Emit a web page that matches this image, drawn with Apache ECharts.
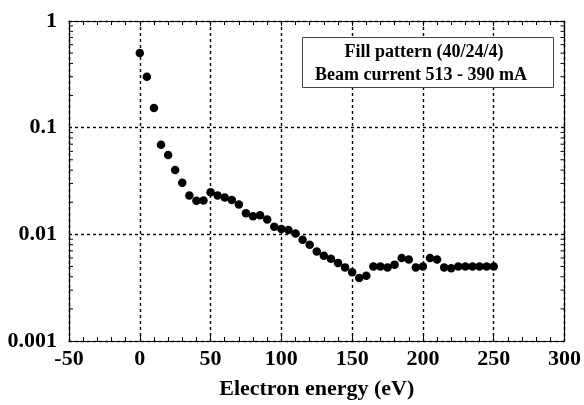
<!DOCTYPE html>
<html>
<head>
<meta charset="utf-8">
<script src="https://cdn.jsdelivr.net/npm/echarts@6/dist/echarts.min.js"></script>
<style>html,body{margin:0;padding:0;background:#fff}#c{width:584px;height:405px}</style>
</head>
<body>
<div id="c"></div>
<script>
var energies = [0,5,10,15,20,25,30,35,40,45,50,55,60,65,70,75,80,85,90,95,100,105,110,115,120,125,130,135,140,145,150,155,160,165,170,175,180,185,190,195,200,205,210,215,220,225,230,235,240,245,250];
var yields = [0.50,0.30,0.153,0.069,0.0555,0.040,0.0305,0.0231,0.0206,0.0208,0.0248,0.0231,0.0221,0.0210,0.0190,0.0158,0.0148,0.0151,0.0138,0.0118,0.0112,0.0110,0.0102,0.0089,0.0080,0.0069,0.0063,0.0059,0.0054,0.0049,0.0044,0.0039,0.0041,0.0050,0.0050,0.0049,0.0052,0.0060,0.0058,0.0049,0.0050,0.0060,0.0058,0.0049,0.0048,0.0050,0.0050,0.0050,0.0050,0.0050,0.0050];
var xTicks = [-50,0,50,100,150,200,250,300];
var yTicks = [0.001,0.01,0.1,1];
var yMinor = [0.002,0.003,0.004,0.005,0.006,0.007,0.008,0.009,0.02,0.03,0.04,0.05,0.06,0.07,0.08,0.09,0.2,0.3,0.4,0.5,0.6,0.7,0.8,0.9];
var legendLines = ['Fill pattern (40/24/4)','Beam current 513 - 390 mA'];
var xTitle = 'Electron energy (eV)';

var FONT = '"Liberation Serif", "Times New Roman", serif';
var pts = energies.map(function(e,i){return [e, yields[i]];});
var xMin = xTicks[0], xMax = xTicks[xTicks.length-1];
var lineStyleAx = {color:'#000', width:1.2};
var dash = {color:'#000', width:1.4, type:[3,3]};

var chart = echarts.init(document.getElementById('c'), null, {renderer:'canvas'});
chart.setOption({
  animation:false,
  backgroundColor:'#fff',
  grid:{left:69, right:15, top:21, bottom:63, containLabel:false},
  xAxis:[{
    type:'value', position:'bottom', min:xMin, max:xMax, interval:50,
    axisLine:{show:true, onZero:false, lineStyle:lineStyleAx},
    axisTick:{show:true, inside:true, length:5, lineStyle:{color:'#000', width:1}},
    minorTick:{show:true, splitNumber:5, length:4, lineStyle:{color:'#000', width:1}},
    axisLabel:{show:true, margin:7, color:'#000', fontFamily:FONT, fontWeight:'bold', fontSize:22},
    splitLine:{show:true, lineStyle:dash},
    name:xTitle, nameLocation:'middle', nameGap:37,
    nameTextStyle:{color:'#000', fontFamily:FONT, fontWeight:'bold', fontSize:22}
  },{
    type:'value', position:'top', min:xMin, max:xMax, interval:50,
    axisLine:{show:true, onZero:false, lineStyle:lineStyleAx},
    axisTick:{show:true, inside:true, length:5, lineStyle:{color:'#000', width:1}},
    minorTick:{show:true, splitNumber:5, length:4, lineStyle:{color:'#000', width:1}},
    axisLabel:{show:false}, splitLine:{show:false}
  }],
  yAxis:[{
    type:'log', logBase:10, position:'left', min:yTicks[0], max:yTicks[yTicks.length-1], splitNumber:3,
    axisLine:{show:true, onZero:false, lineStyle:lineStyleAx},
    axisTick:{show:false},
    axisLabel:{show:true, margin:12, color:'#000', fontFamily:FONT, fontWeight:'bold', fontSize:22,
      formatter:function(v){return String(+Number(v).toPrecision(1));}},
    splitLine:{show:true, lineStyle:dash}
  },{
    type:'log', logBase:10, position:'right', min:yTicks[0], max:yTicks[yTicks.length-1], splitNumber:3,
    axisLine:{show:true, onZero:false, lineStyle:lineStyleAx},
    axisTick:{show:false},
    axisLabel:{show:false}, splitLine:{show:false}
  }],
  series:[{
    type:'custom', xAxisIndex:0, yAxisIndex:0, data:yMinor.map(function(v){return [xMin, v];}),
    silent:true, z:3, clip:false,
    renderItem:function(params, api){
      var v = api.value(1);
      var pL = api.coord([xMin, v]);
      var pR = api.coord([xMax, v]);
      var st = {stroke:'#000', lineWidth:1};
      return {type:'group', children:[
        {type:'line', shape:{x1:pL[0], y1:pL[1], x2:pL[0]+4, y2:pL[1]}, style:st},
        {type:'line', shape:{x1:pR[0], y1:pR[1], x2:pR[0]-4, y2:pR[1]}, style:st}
      ]};
    }
  },{
    type:'scatter', xAxisIndex:0, yAxisIndex:0, data:pts,
    symbol:'circle', symbolSize:8.5, itemStyle:{color:'#000', opacity:1}, z:5
  }],
  graphic:[{
    type:'rect', left:302, top:37, z:10, zlevel:0,
    shape:{x:0,y:0,width:251,height:50}, style:{fill:'#fff', stroke:'#444', lineWidth:1}
  },{
    type:'text', x:424, y:52, z:11, zlevel:0,
    style:{text:legendLines[0], fill:'#000', fontFamily:FONT, fontWeight:'bold', fontSize:18, textAlign:'center', textVerticalAlign:'middle'}
  },{
    type:'text', x:421, y:75, z:11, zlevel:0,
    style:{text:legendLines[1], fill:'#000', fontFamily:FONT, fontWeight:'bold', fontSize:18, textAlign:'center', textVerticalAlign:'middle'}
  }]
});
</script>
</body>
</html>
